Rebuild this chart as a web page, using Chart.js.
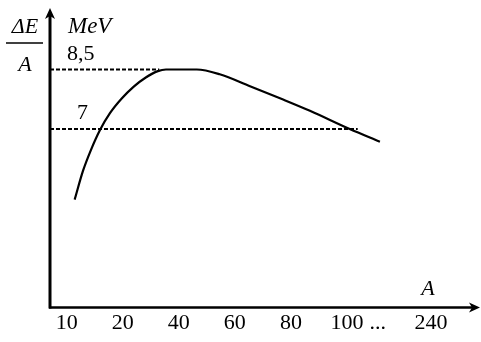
<!DOCTYPE html>
<html>
<head>
<meta charset="utf-8">
<script src="https://cdn.jsdelivr.net/npm/chart.js@4/dist/chart.umd.min.js"></script>
<style>
  html, body { margin: 0; padding: 0; background: #fff; }
  #wrap { width: 481px; height: 342px; }
</style>
</head>
<body>
<div id="wrap"><canvas id="bindingChart"></canvas></div>
<script>
// Tick labels on the A axis (the axis is not to scale, each label gets a slot)
var tickA = [10, 20, 40, 60, 80, 100, 240];
var tickSlot = [0, 1, 2, 3, 4, 5, 6.5];

// Binding energy per nucleon curve
var curveA = [11.4, 12.9, 14.3, 15.9, 17.7, 19.8, 23.9, 28.2, 32.5, 35.4, 46.4, 54.6, 65.4, 77, 86.8, 104.7, 155];
var curveE = [5.22, 5.95, 6.47, 6.97, 7.4, 7.77, 8.07, 8.3, 8.46, 8.5, 8.5, 8.38, 8.08, 7.75, 7.46, 7.0, 6.68];

// Reference levels (MeV) and where their dashed lines end (A)
var levelE = [8.5, 7];
var levelLabel = ["8,5", "7"];
var levelEndA = [33, 118];

// place an A value on the stretched axis
function aToSlot(a) {
  for (var i = 0; i < tickA.length - 1; i++) {
    if (a <= tickA[i + 1]) {
      var t = (a - tickA[i]) / (tickA[i + 1] - tickA[i]);
      return tickSlot[i] + t * (tickSlot[i + 1] - tickSlot[i]);
    }
  }
  return tickSlot[tickSlot.length - 1];
}

var xMin = -0.3, xMax = 7.34;
var serif = "'Liberation Serif', 'Times New Roman', serif";

var datasets = [{
  data: curveA.map(function(a, i) { return { x: aToSlot(a), y: curveE[i] }; }),
  borderColor: "#000",
  borderWidth: 2.2,
  pointRadius: 0,
  cubicInterpolationMode: "monotone",
  fill: false
}];
levelE.forEach(function(e, i) {
  datasets.push({
    data: [{ x: xMin, y: e }, { x: aToSlot(levelEndA[i]), y: e }],
    borderColor: "#000",
    borderWidth: 2,
    borderDash: [4, 2],
    pointRadius: 0,
    fill: false
  });
});

// axes with arrows and the free text labels
var axesPlugin = {
  id: "axesPlugin",
  afterDatasetsDraw: function(chart) {
    var c = chart.ctx, area = chart.chartArea;
    var xs = chart.scales.x, ys = chart.scales.y;
    c.save();
    c.strokeStyle = "#000";
    c.fillStyle = "#000";
    // y axis
    c.lineWidth = 3;
    c.beginPath();
    c.moveTo(area.left, area.bottom + 1);
    c.lineTo(area.left, area.top + 4);
    c.stroke();
    c.beginPath();
    c.moveTo(area.left, area.top - 2);
    c.lineTo(area.left - 5, area.top + 9);
    c.lineTo(area.left, area.top + 6);
    c.lineTo(area.left + 5, area.top + 9);
    c.closePath();
    c.fill();
    // x axis
    c.lineWidth = 2.5;
    c.beginPath();
    c.moveTo(area.left - 1, area.bottom);
    c.lineTo(area.right - 2, area.bottom);
    c.stroke();
    c.beginPath();
    c.moveTo(area.right + 2, area.bottom);
    c.lineTo(area.right - 9, area.bottom - 5);
    c.lineTo(area.right - 6, area.bottom);
    c.lineTo(area.right - 9, area.bottom + 5);
    c.closePath();
    c.fill();

    // level labels
    c.font = "22px " + serif;
    c.textBaseline = "alphabetic";
    c.textAlign = "left";
    c.fillText(levelLabel[0], area.left + 17, ys.getPixelForValue(levelE[0]) - 10);
    c.fillText(levelLabel[1], area.left + 27, ys.getPixelForValue(levelE[1]) - 10);

    // unit and quantity labels
    c.font = "italic 23px " + serif;
    c.fillText("MeV", area.left + 18, 33);
    c.textAlign = "center";
    c.font = "italic 22px " + serif;
    c.fillText("\u0394E", 25, 33);
    c.fillText("A", 25, 71);
    c.lineWidth = 1.5;
    c.beginPath();
    c.moveTo(6, 43);
    c.lineTo(43, 43);
    c.stroke();
    c.fillText("A", xs.getPixelForValue(aToSlot(tickA[tickA.length - 1])) - 3, 295);
    c.restore();
  }
};

var ctx = document.getElementById("bindingChart").getContext("2d");
var bindingChart = new Chart(ctx, {
  type: "line",
  data: { datasets: datasets },
  options: {
    responsive: true,
    maintainAspectRatio: false,
    animation: false,
    layout: { padding: { left: 50, right: 3, top: 10, bottom: 4 } },
    plugins: { legend: { display: false }, tooltip: { enabled: false } },
    scales: {
      x: {
        type: "linear",
        min: xMin,
        max: xMax,
        grid: { display: false, drawTicks: false },
        border: { display: false },
        afterBuildTicks: function(scale) {
          var t = tickSlot.map(function(v) { return { value: v }; });
          t.push({ value: 5.55 });
          scale.ticks = t;
        },
        ticks: {
          padding: 2,
          maxRotation: 0,
          autoSkip: false,
          color: "#000",
          font: { family: serif, size: 22 },
          callback: function(v) {
            var i = tickSlot.indexOf(v);
            return i >= 0 ? String(tickA[i]) : "...";
          }
        }
      },
      y: {
        type: "linear",
        min: 2.5,
        max: 10,
        display: false
      }
    }
  },
  plugins: [axesPlugin]
});
</script>
</body>
</html>
